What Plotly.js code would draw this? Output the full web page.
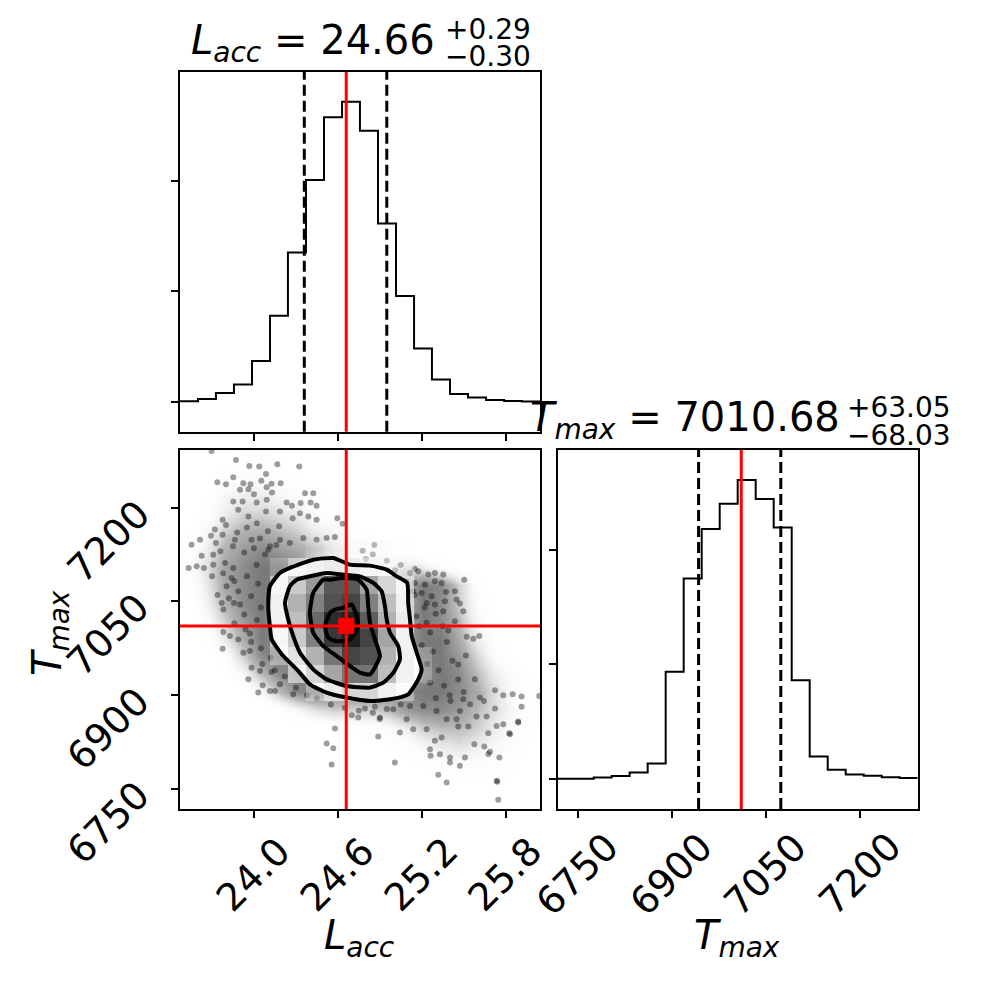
<!DOCTYPE html>
<html>
<head>
<meta charset="utf-8">
<script src="https://cdn.plot.ly/plotly-3.0.1.min.js"></script>
<style>body{margin:0;background:#fff}#corner{width:990px;height:990px}</style>
</head>
<body>
<div id="corner"></div>
<script>
// 1D histograms (20 bins each)
var laccEdges = [23.471, 23.600, 23.728, 23.857, 23.986, 24.115, 24.243, 24.372, 24.501, 24.630, 24.758,
                 24.887, 25.016, 25.145, 25.273, 25.402, 25.531, 25.660, 25.789, 25.917, 26.046];
var laccCounts = [5, 24, 79, 157, 369, 779, 1353, 2009, 2577, 2719, 2456, 1616, 958, 483, 202, 69, 39, 15, 6, 3];

var tmaxEdges = [6718.0, 6746.7, 6775.4, 6804.1, 6832.8, 6861.5, 6890.2, 6918.9, 6947.6, 6976.3, 7005.0,
                 7033.7, 7062.4, 7091.1, 7119.8, 7148.5, 7177.2, 7205.9, 7234.6, 7263.3, 7292.0];
var tmaxCounts = [2, 3, 14, 26, 58, 136, 936, 1748, 2180, 2400, 2609, 2443, 2194, 861, 197, 81, 41, 29, 17, 9];

// 16th / 50th / 84th percentiles
var laccQ = [24.36, 24.66, 24.95];
var tmaxQ = [6942.65, 7010.68, 7073.73];
var laccTitle = ['24.66', '+0.29', '\u22120.30'];
var tmaxTitle = ['7010.68', '+63.05', '\u221268.03'];

var laccTicks = [24.0, 24.6, 25.2, 25.8];
var tmaxTicks = [6750, 6900, 7050, 7200];
var histTicks = [0, 1000, 2000];

// 2D histogram shading inside the contours, rows listed top (high Tmax) to bottom
var densityRows = [
  [0,0,0,0,0,0,0,0,0,0,0,0,0,0,0,0,0,0,0,0],
  [0,0,0,0,0,0,0,0,0,0,0,0,0,0,0,0,0,0,0,0],
  [0,0,0,0,0,0,0,0,0,0,0,0,0,0,0,0,0,0,0,0],
  [0,0,0,0,0,0,0,0,0,0,0,0,0,0,0,0,0,0,0,0],
  [0,0,0,0,0,0,0,0,0,0,0,0,0,0,0,0,0,0,0,0],
  [0,0,0,0,0,0,0,.02,.04,.04,.04,.04,.02,0,0,0,0,0,0,0],
  [0,0,0,0,0,.03,.08,.1,.12,.12,.08,.06,.04,0,0,0,0,0,0,0],
  [0,0,0,0,0,.08,.25,.45,.72,.72,.4,.2,.08,0,0,0,0,0,0,0],
  [0,0,0,0,0,.1,.35,.55,.75,.8,.55,.3,.1,0,0,0,0,0,0,0],
  [0,0,0,0,0,.1,.3,.65,.9,.95,.7,.35,.12,0,0,0,0,0,0,0],
  [0,0,0,0,0,.08,.25,.55,.85,.95,.8,.4,.1,0,0,0,0,0,0,0],
  [0,0,0,0,0,.05,.15,.35,.6,.8,.75,.35,.1,.03,0,0,0,0,0,0],
  [0,0,0,0,0,0,.08,.2,.4,.6,.6,.3,.1,.03,0,0,0,0,0,0],
  [0,0,0,0,0,0,0,.05,.12,.2,.2,.1,.05,0,0,0,0,0,0,0],
  [0,0,0,0,0,0,0,0,0,0,0,0,0,0,0,0,0,0,0,0],
  [0,0,0,0,0,0,0,0,0,0,0,0,0,0,0,0,0,0,0,0],
  [0,0,0,0,0,0,0,0,0,0,0,0,0,0,0,0,0,0,0,0],
  [0,0,0,0,0,0,0,0,0,0,0,0,0,0,0,0,0,0,0,0],
  [0,0,0,0,0,0,0,0,0,0,0,0,0,0,0,0,0,0,0,0],
  [0,0,0,0,0,0,0,0,0,0,0,0,0,0,0,0,0,0,0,0]
];

// tone of the crowded sample cloud around the contours, rows top to bottom
var cloudRows = [
  [0,0,.03,.05,.05,.03,0,0,0,0,0,0,0,0,0,0,0,0,0,0],
  [0,.03,.08,.1,.1,.08,.05,.03,0,0,0,0,0,0,0,0,0,0,0,0],
  [0,.05,.15,.2,.2,.15,.12,.08,.04,0,0,0,0,0,0,0,0,0,0,0],
  [.02,.08,.2,.28,.28,.25,.2,.12,.08,.04,0,0,0,0,0,0,0,0,0,0],
  [.04,.15,.3,.38,.4,.35,.3,.2,.15,.08,.04,0,0,0,0,0,0,0,0,0],
  [.08,.2,.38,.45,.5,.45,.4,.35,.25,.15,.1,.06,.04,0,0,0,0,0,0,0],
  [.1,.25,.42,.5,.55,.55,.5,.25,.18,.12,.1,.15,.25,.2,.1,.03,0,0,0,0],
  [.06,.22,.42,.5,.55,.55,.45,.45,.45,.45,.45,.45,.4,.55,.5,.3,.1,0,0,0],
  [.03,.18,.38,.5,.55,.45,.45,.45,.45,.45,.45,.45,.4,.55,.5,.3,.12,.04,0,0],
  [0,.12,.3,.45,.55,.45,.45,.45,.45,.45,.45,.45,.4,.55,.5,.35,.15,.05,0,0],
  [0,.06,.22,.4,.55,.5,.45,.45,.45,.45,.45,.45,.45,.55,.55,.4,.2,.08,0,0],
  [0,0,.1,.3,.5,.55,.45,.45,.45,.45,.45,.45,.45,.55,.55,.45,.28,.12,.04,0],
  [0,0,.04,.15,.35,.5,.55,.45,.45,.45,.45,.45,.45,.5,.55,.5,.35,.2,.1,.04],
  [0,0,0,.05,.15,.35,.5,.55,.5,.45,.45,.45,.5,.55,.55,.5,.4,.25,.12,.05],
  [0,0,0,0,0,.05,.15,.25,.3,.3,.3,.35,.45,.5,.5,.45,.35,.25,.15,.06],
  [0,0,0,0,0,0,0,0,.04,.06,.08,.12,.2,.3,.35,.35,.3,.2,.12,.05],
  [0,0,0,0,0,0,0,0,.03,0,.02,.05,.08,.15,.22,.25,.2,.15,.08,.03],
  [0,0,0,0,0,0,0,0,0,0,0,0,.03,.06,.1,.12,.1,.08,.05,.02],
  [0,0,0,0,0,0,0,0,0,0,0,0,0,0,.03,.04,.04,.05,.04,0],
  [0,0,0,0,0,0,0,0,0,0,0,0,0,0,0,0,0,.02,.03,0]
];

// individual samples that stand out from the cloud
var ptsLacc = [
  23.697, 23.871, 24.167, 23.967, 24.038, 24.324, 24.086, 23.852, 23.738, 23.800, 23.924, 23.976, 24.053,
  24.126, 24.191, 23.900, 23.960, 24.000, 24.091, 24.129, 24.365, 24.424, 23.852, 23.919, 24.019, 24.091,
  24.234, 24.272, 24.334, 24.405, 24.448, 23.776, 23.888, 23.960, 24.086, 24.186, 24.277, 24.329, 24.389,
  24.448, 24.596, 23.693, 23.776, 23.614, 23.554, 23.728, 23.864, 23.983, 24.043, 24.114, 24.186, 24.257,
  24.353, 24.448, 24.520, 24.579, 24.634, 23.533, 23.590, 23.642, 23.626, 23.709, 23.793, 23.852, 24.019,
  24.103, 23.709, 23.769, 23.781, 23.857, 23.931, 23.804, 23.840, 23.888,
  24.861, 24.777, 24.801, 24.949, 25.008, 25.116, 25.175, 25.247, 25.294, 25.354, 25.092, 25.151, 25.223,
  25.294, 25.342, 25.504, 25.139, 25.199, 25.271, 25.373, 25.437, 25.235, 25.294, 25.366, 25.449, 25.473,
  25.354, 25.437, 25.497, 25.163, 25.235,
  23.776, 23.781, 23.828, 23.888, 23.971, 23.924, 23.971, 23.983, 24.043, 24.126, 23.960, 24.031, 24.062,
  24.114, 24.150, 24.186, 24.281, 24.579, 24.520, 24.567, 24.556, 24.746,
  25.569, 25.611, 25.521, 25.461, 25.516, 25.390, 25.580, 25.724, 25.783, 25.850, 25.914, 25.914, 25.406,
  25.473, 25.545, 25.616, 25.645, 25.592, 25.664, 25.724, 25.735, 25.783, 25.890, 25.826, 25.676, 25.533,
  25.461, 25.342, 25.294, 25.263, 25.259, 25.330, 25.402, 25.402, 25.473, 25.509, 25.576, 25.647, 25.688,
  25.755, 25.318, 25.378, 25.740, 25.747, 25.008, 24.889, 24.794, 24.865, 24.901, 25.044, 25.139, 25.235,
  25.092, 24.996, 25.116, 25.211, 25.306, 25.378, 25.449,
  26.040, 25.736, 25.497, 25.831, 25.890, 25.676,
  23.72, 23.80, 23.88, 23.95, 24.02, 24.10, 24.18, 23.76, 23.85, 23.93, 24.00, 24.08, 24.16, 23.70, 23.78,
  23.86, 23.95, 24.03, 23.74, 23.82, 23.90, 23.98, 24.05, 23.86, 23.94, 24.02,
  23.98, 24.05, 24.12, 24.06, 24.15, 24.22, 24.30, 24.38, 24.45,
  24.55, 24.65, 24.75, 24.85, 24.95, 25.05, 24.70, 24.90,
  25.15, 25.22, 25.30, 25.18, 25.26, 25.35, 25.20, 25.28, 25.38, 25.24, 25.32, 25.42, 25.26, 25.36, 25.46,
  25.30, 25.40, 25.50, 24.95, 25.05, 25.15, 24.85
];
var ptsTmax = [
  7290.4, 7276.0, 7269.1, 7266.5, 7265.4, 7265.4, 7253.7, 7248.4, 7240.4, 7237.2, 7238.8, 7237.2, 7242.6,
  7237.8, 7238.8, 7228.2, 7229.3, 7221.3, 7232.5, 7224.0, 7222.9, 7222.9, 7209.6, 7209.6, 7208.0, 7212.3,
  7208.0, 7202.7, 7207.0, 7208.0, 7202.7, 7180.4, 7196.3, 7185.7, 7193.7, 7193.7, 7183.0, 7191.0, 7185.7,
  7180.4, 7183.0, 7154.9, 7156.5, 7148.5, 7140.5, 7143.2, 7148.5, 7148.5, 7150.6, 7137.9, 7148.5, 7143.2,
  7151.2, 7148.5, 7151.2, 7152.7, 7174.0, 7103.3, 7106.0, 7103.3, 7123.0, 7124.6, 7111.3, 7103.3, 7108.6,
  7132.6, 7108.6, 7047.5, 7036.9, 7047.5, 7028.9, 7074.1, 7087.4, 7066.1,
  7140.0, 7130.9, 7117.7, 7099.6, 7099.6, 7095.4, 7098.0, 7092.7, 7095.4, 7092.7, 7082.1, 7079.4, 7076.8,
  7082.1, 7079.4, 7084.7, 7066.1, 7063.5, 7058.2, 7065.1, 7066.1, 7047.5, 7044.9, 7050.2, 7052.9, 7046.5,
  7034.3, 7018.3, 7034.3, 7026.3, 7015.6,
  6974.2, 7000.8, 6994.4, 6989.1, 6998.7, 6967.8, 6970.5, 6943.9, 6938.6, 6937.0, 6925.3, 6904.1, 6915.8,
  6906.7, 6906.7, 6917.4, 6901.4, 6846.7, 6822.8, 6815.3, 6789.3, 6864.2,
  6990.2, 6994.4, 6993.3, 6949.2, 6963.6, 7003.4, 6925.3, 6907.8, 6899.8, 6901.4, 6897.7, 6881.7, 6890.8,
  6874.8, 6885.5, 6896.1, 6890.8, 6865.8, 6865.8, 6878.6, 6850.9, 6853.6, 6857.8, 6839.2, 6839.2, 6849.9,
  6849.9, 6832.3, 6827.0, 6803.1, 6813.7, 6805.7, 6800.4, 6792.4, 6787.1, 6800.4, 6821.7, 6818.0, 6809.5,
  6800.4, 6772.8, 6760.6, 6761.7, 6733.0, 6792.4, 6833.9, 6878.6, 6881.7, 6864.2, 6840.3, 6845.6, 6845.6,
  6861.5, 6877.5, 6882.8, 6882.8, 6874.8, 6861.5, 6861.5,
  6898.7, 6763.2, 6893.4, 6837.6, 6856.3, 6805.8,
  7165, 7172, 7160, 7168, 7175, 7162, 7170, 7130, 7138, 7128, 7135, 7125, 7140, 7090, 7095,
  7082, 7090, 7078, 7060, 7055, 7045, 7058, 7040, 7015, 7005, 7020,
  6985, 6975, 6960, 6950, 6940, 6930, 6912, 6900, 6895,
  6885, 6880, 6875, 6872, 6878, 6885, 6868, 6862,
  7060, 7040, 7030, 7010, 7000, 7010, 6980, 6970, 6985, 6950, 6940, 6955, 6920, 6915, 6925,
  6895, 6900, 6905, 7115, 7108, 7102, 7125
];

// contour levels, outermost first
var c1x = [24.186, 24.114, 24.102, 24.114, 24.127, 24.210, 24.317, 24.400, 24.520, 24.663, 24.830, 24.973, 25.103,
           25.175, 25.199, 25.164, 25.128, 25.116, 25.103, 25.096, 25.021, 24.949, 24.830, 24.687, 24.567, 24.424, 24.257];
var c1y = [7095.4, 7074.1, 7042.2, 7010.3, 6989.1, 6962.5, 6938.6, 6917.4, 6904.1, 6896.2, 6890.7, 6893.4, 6901.4,
           6925.3, 6941.3, 6967.9, 6994.4, 7021.0, 7047.6, 7079.5, 7090.0, 7100.7, 7107.1, 7108.7, 7119.3, 7116.6, 7103.4];
var c2x = [24.257, 24.222, 24.245, 24.281, 24.329, 24.424, 24.520, 24.663, 24.830, 24.925, 24.997, 25.044, 25.032,
           24.973, 24.949, 24.937, 24.913, 24.853, 24.758, 24.639, 24.520, 24.400, 24.305];
var c2y = [7074.1, 7047.6, 7021.0, 6994.4, 6967.9, 6941.3, 6925.3, 6914.6, 6912.1, 6920.1, 6936.0, 6957.2, 6978.4,
           6999.8, 7021.0, 7042.2, 7066.1, 7079.5, 7090.0, 7092.7, 7095.4, 7090.0, 7084.7];
var c3x = [24.496, 24.424, 24.400, 24.424, 24.496, 24.591, 24.687, 24.758, 24.830, 24.901, 24.865, 24.830, 24.817,
           24.806, 24.746, 24.639, 24.544];
var c3y = [7084.7, 7063.5, 7031.7, 6999.8, 6978.4, 6962.5, 6946.5, 6936.0, 6933.3, 6962.5, 6989.1, 7015.7, 7042.2,
           7068.8, 7084.7, 7087.5, 7084.7];
var c4x = [24.544, 24.508, 24.531, 24.591, 24.687, 24.746, 24.734, 24.699, 24.639, 24.579];
var c4y = [7031.7, 7010.3, 6991.8, 6986.4, 6989.1, 7010.3, 7026.2, 7044.9, 7039.6, 7036.9];

var laccRange = [laccEdges[0], laccEdges[laccEdges.length - 1]];
var tmaxRange = [tmaxEdges[0], tmaxEdges[tmaxEdges.length - 1]];

function centers(e) { return e.slice(1).map(function (v, i) { return (v + e[i]) / 2; }); }
function closed(a) { return a.concat([a[0]]); }

var FONT = 'DejaVu Sans, sans-serif';

var traces = [
  { x: laccEdges, y: laccCounts.concat([laccCounts[laccCounts.length - 1]]), xaxis: 'x', yaxis: 'y',
    mode: 'lines', line: { shape: 'hv', color: 'black', width: 2 }, hoverinfo: 'skip' },
  { x: tmaxEdges, y: tmaxCounts.concat([tmaxCounts[tmaxCounts.length - 1]]), xaxis: 'x3', yaxis: 'y3',
    mode: 'lines', line: { shape: 'hv', color: 'black', width: 2 }, hoverinfo: 'skip' },
  { type: 'heatmap', x: centers(laccEdges), y: centers(tmaxEdges), z: cloudRows.slice().reverse(),
    xaxis: 'x2', yaxis: 'y2', zsmooth: 'best', zmin: 0, zmax: 0.65, showscale: false, hoverinfo: 'skip',
    colorscale: [[0, 'rgba(255,255,255,0)'], [0.2, 'rgba(235,235,235,0.25)'], [0.55, 'rgba(165,165,165,0.8)'],
                 [1, 'rgba(85,85,85,1)']] },
  { x: ptsLacc, y: ptsTmax, xaxis: 'x2', yaxis: 'y2', mode: 'markers', hoverinfo: 'skip',
    marker: { size: 6, color: 'rgba(0,0,0,0.38)' } },
  { x: closed(c1x), y: closed(c1y), xaxis: 'x2', yaxis: 'y2', mode: 'lines', fill: 'toself',
    fillcolor: 'white', line: { width: 0, shape: 'spline', smoothing: 0.5 }, hoverinfo: 'skip' },
  { type: 'heatmap', x: laccEdges, y: tmaxEdges, z: densityRows.slice().reverse(),
    xaxis: 'x4', yaxis: 'y4', zsmooth: false, zmin: 0, zmax: 1, showscale: false, hoverinfo: 'skip',
    colorscale: [[0, 'rgba(255,255,255,0)'], [0.08, 'rgba(240,240,240,0.6)'], [0.15, 'rgb(226,226,226)'], [1, 'rgb(20,20,20)']] }
];

[[c1x, c1y], [c2x, c2y], [c3x, c3y], [c4x, c4y]].forEach(function (c) {
  traces.push({ x: closed(c[0]), y: closed(c[1]), xaxis: 'x4', yaxis: 'y4', mode: 'lines', hoverinfo: 'skip',
    line: { color: 'black', width: 4, shape: 'spline', smoothing: 0.5 } });
});

traces.push({ x: [laccQ[1]], y: [tmaxQ[1]], xaxis: 'x4', yaxis: 'y4', mode: 'markers', hoverinfo: 'skip',
  marker: { symbol: 'square', size: 16, color: 'red' } });

var frame = {
  showline: true, linewidth: 2, linecolor: 'black', mirror: true, ticks: 'outside', ticklen: 7,
  tickwidth: 2, tickcolor: 'black', showgrid: false, zeroline: false, showticklabels: false, fixedrange: true
};
function ax(extra) { return Object.assign({}, frame, extra); }

var shapes = [];
function vline(xref, yref, x, color, dash) {
  shapes.push({ type: 'line', xref: xref, yref: yref + ' domain', x0: x, x1: x, y0: 0, y1: 1,
    line: { color: color, width: 3, dash: dash } });
}
vline('x', 'y', laccQ[0], 'black', '11px,5px');
vline('x', 'y', laccQ[2], 'black', '11px,5px');
vline('x', 'y', laccQ[1], 'red', 'solid');
vline('x3', 'y3', tmaxQ[0], 'black', '11px,5px');
vline('x3', 'y3', tmaxQ[2], 'black', '11px,5px');
vline('x3', 'y3', tmaxQ[1], 'red', 'solid');
vline('x2', 'y2', laccQ[1], 'red', 'solid');
shapes.push({ type: 'line', xref: 'x2 domain', yref: 'y2', x0: 0, x1: 1, y0: tmaxQ[1], y1: tmaxQ[1],
  line: { color: 'red', width: 3 } });

var annotations = [];
function txt(o) {
  annotations.push(Object.assign({ showarrow: false, xanchor: 'center', yanchor: 'middle',
    font: { family: FONT, size: 38, color: 'black' } }, o));
}

laccTicks.forEach(function (t) {
  txt({ xref: 'x2', x: t, yref: 'paper', y: 0.1167, text: t.toFixed(1), textangle: -45 });
});
tmaxTicks.forEach(function (t) {
  txt({ xref: 'x3', x: t, yref: 'paper', y: 0.1167, text: String(t), textangle: -45 });
  txt({ xref: 'paper', x: 0.1091, yref: 'y2', y: t, yshift: -34, text: String(t), textangle: -45 });
});

var big = { family: FONT, size: 40, color: 'black' };
var small = { family: FONT, size: 28, color: 'black' };
var lacc = '<i>L</i><sub><i>acc</i></sub>';
var tmax = '<i>T</i><sub><i>max</i></sub>';

txt({ xref: 'paper', yref: 'paper', x: 0.4414, y: 0.9566, xanchor: 'right', text: lacc + ' = ' + laccTitle[0], font: big });
txt({ xref: 'paper', yref: 'paper', x: 0.4478, y: 0.9697, xanchor: 'left', text: laccTitle[1], font: small });
txt({ xref: 'paper', yref: 'paper', x: 0.4478, y: 0.9427, xanchor: 'left', text: laccTitle[2], font: small });

txt({ xref: 'paper', yref: 'paper', x: 0.8502, y: 0.5758, xanchor: 'right', text: tmax + ' = ' + tmaxTitle[0], font: big });
txt({ xref: 'paper', yref: 'paper', x: 0.8535, y: 0.5879, xanchor: 'left', text: tmaxTitle[1], font: small });
txt({ xref: 'paper', yref: 'paper', x: 0.8535, y: 0.5606, xanchor: 'left', text: tmaxTitle[2], font: small });

txt({ xref: 'paper', yref: 'paper', x: 0.3636, y: 0.0525, text: lacc, font: big });
txt({ xref: 'paper', yref: 'paper', x: 0.7444, y: 0.0525, text: tmax, font: big });
txt({ xref: 'paper', yref: 'paper', x: 0.0505, y: 0.3606, text: tmax, font: big, textangle: -90 });

var layout = {
  width: 990, height: 990,
  margin: { l: 0, r: 0, t: 0, b: 0 },
  paper_bgcolor: 'white', plot_bgcolor: 'white',
  showlegend: false,
  xaxis: ax({ domain: [0.1818, 0.5455], anchor: 'y', range: laccRange, tickvals: laccTicks }),
  yaxis: ax({ domain: [0.5639, 0.9276], anchor: 'x', range: [-272, 2991], tickvals: histTicks }),
  xaxis2: ax({ domain: [0.1818, 0.5455], anchor: 'y2', range: laccRange, tickvals: laccTicks }),
  yaxis2: ax({ domain: [0.1828, 0.5455], anchor: 'x2', range: tmaxRange, tickvals: tmaxTicks }),
  xaxis3: ax({ domain: [0.5633, 0.9270], anchor: 'y3', range: tmaxRange, tickvals: tmaxTicks }),
  yaxis3: ax({ domain: [0.1828, 0.5455], anchor: 'x3', range: [-261, 2870], tickvals: histTicks }),
  xaxis4: { overlaying: 'x2', anchor: 'y4', range: laccRange, visible: false, fixedrange: true },
  yaxis4: { overlaying: 'y2', anchor: 'x4', range: tmaxRange, visible: false, fixedrange: true },
  shapes: shapes,
  annotations: annotations
};

Plotly.newPlot('corner', traces, layout, { staticPlot: true });
</script>
</body>
</html>
